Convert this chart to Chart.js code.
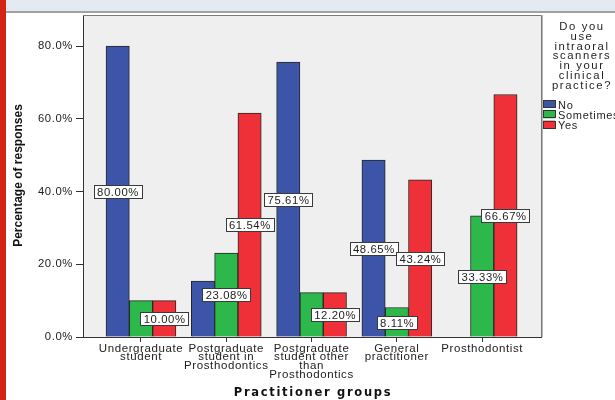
<!DOCTYPE html>
<html>
<head>
<meta charset="utf-8">
<script src="https://cdn.jsdelivr.net/npm/chart.js@4/dist/chart.umd.min.js"></script>
<style>
  html, body { margin: 0; padding: 0; background: #ffffff; }
  #wrap { width: 615px; height: 400px; position: relative; }
  canvas { display: block; }
</style>
</head>
<body>
<div id="wrap"><canvas id="chart" width="615" height="400"></canvas></div>
<script>
// Practitioner groups on the horizontal axis (multi-line labels)
const categories = [
  ["Undergraduate", "student"],
  ["Postgraduate", "student in", "Prosthodontics"],
  ["Postgraduate", "student other", "than", "Prosthodontics"],
  ["General", "practitioner"],
  ["Prosthodontist"]
];

// Answer series (percent of responses in each group)
const seriesNames = ["No", "Sometimes", "Yes"];
const noValues = [80.00, 15.38, 75.61, 48.65, 0];
const sometimesValues = [10.00, 23.08, 12.20, 8.11, 33.33];
const yesValues = [10.00, 61.54, 12.20, 43.24, 66.67];

// Which bars carry a value box
const noLabelShown = [true, false, true, true, false];
const sometimesLabelShown = [false, true, false, true, true];
const yesLabelShown = [true, true, true, true, true];

// Value axis ticks
const yTicks = [0, 20, 40, 60, 80];

// Texts
const legendTitle = ["Do you", "use", "intraoral", "scanners", "in your", "clinical", "practice?"];
const xTitle = "Practitioner groups";
const yTitle = "Percentage of responses";

const seriesColors = ["#3d55a9", "#2cb84b", "#ef3039"];
const seriesValues = [noValues, sometimesValues, yesValues];
const seriesLabelShown = [noLabelShown, sometimesLabelShown, yesLabelShown];

const FONT = '"Liberation Sans", Arial, sans-serif';

// Page background, side stripe, top band and plot background
const backdrop = {
  id: 'backdrop',
  beforeDraw(chart) {
    const ctx = chart.ctx;
    const a = chart.chartArea;
    ctx.save();
    ctx.fillStyle = '#ffffff';
    ctx.fillRect(0, 0, chart.width, chart.height);
    ctx.fillStyle = '#e4eaf1';
    ctx.fillRect(0, 0, chart.width, 11);
    ctx.fillStyle = '#a2a2a2';
    ctx.fillRect(0, 11, chart.width, 2);
    ctx.fillStyle = '#efefef';
    ctx.fillRect(a.left, a.top, a.right - a.left, a.bottom - a.top);
    ctx.fillStyle = '#d32414';
    ctx.fillRect(0, 0, 6, chart.height);
    ctx.restore();
    ctx.letterSpacing = '0.6px';
  }
};

// Top and right edges of the plot frame
const frame = {
  id: 'frame',
  beforeDatasetsDraw(chart) {
    const ctx = chart.ctx;
    const a = chart.chartArea;
    ctx.save();
    ctx.lineWidth = 1;
    ctx.strokeStyle = '#7a7a7a';
    ctx.beginPath();
    ctx.moveTo(a.left, a.top - 0.5);
    ctx.lineTo(a.right + 0.5, a.top - 0.5);
    ctx.lineTo(a.right + 0.5, a.bottom);
    ctx.stroke();
    ctx.strokeStyle = '#b4b4b4';
    ctx.beginPath();
    ctx.moveTo(a.right + 1.5, a.top - 1);
    ctx.lineTo(a.right + 1.5, a.bottom);
    ctx.stroke();
    ctx.restore();
  }
};

// Boxed percentage values at the middle of the bars
const valueBoxes = {
  id: 'valueBoxes',
  afterDatasetsDraw(chart) {
    const ctx = chart.ctx;
    ctx.save();
    ctx.font = '11.3px ' + FONT;
    ctx.letterSpacing = '0.6px';
    ctx.textAlign = 'center';
    ctx.textBaseline = 'middle';
    chart.data.datasets.forEach((ds, d) => {
      const meta = chart.getDatasetMeta(d);
      meta.data.forEach((bar, i) => {
        if (!seriesLabelShown[d][i]) return;
        const text = seriesValues[d][i].toFixed(2) + '%';
        const cx = bar.x;
        const cy = (bar.y + bar.base) / 2;
        const w = Math.round(ctx.measureText(text).width + 6);
        const h = 13;
        const x0 = Math.round(cx - w / 2) + 0.5;
        const y0 = Math.round(cy - h / 2) + 0.5;
        ctx.fillStyle = '#ffffff';
        ctx.fillRect(x0, y0, w, h);
        ctx.strokeStyle = '#3a3a3a';
        ctx.lineWidth = 1;
        ctx.strokeRect(x0, y0, w, h);
        ctx.fillStyle = '#1e1e1e';
        ctx.fillText(text, cx + 0.3, y0 + h / 2 + 0.5);
      });
    });
    ctx.restore();
  }
};

// Axis titles and legend block
const annotations = {
  id: 'annotations',
  afterDraw(chart) {
    const ctx = chart.ctx;
    const a = chart.chartArea;
    ctx.save();
    ctx.fillStyle = '#111111';
    ctx.textAlign = 'center';
    ctx.textBaseline = 'middle';

    // vertical axis title
    ctx.save();
    ctx.translate(19, (a.top + a.bottom) / 2 - 1);
    ctx.rotate(-Math.PI / 2);
    ctx.font = 'bold 12px ' + FONT;
    ctx.letterSpacing = '0px';
    ctx.fillText(yTitle, 0, 0);
    ctx.restore();

    // horizontal axis title
    ctx.font = 'bold 11.5px "DejaVu Sans", sans-serif';
    ctx.letterSpacing = '1.7px';
    ctx.fillText(xTitle, (a.left + a.right) / 2 + 1, 393);

    // legend title
    ctx.font = '11.3px ' + FONT;
    ctx.letterSpacing = '1.6px';
    ctx.fillStyle = '#1e1e1e';
    ctx.textBaseline = 'alphabetic';
    legendTitle.forEach((line, k) => {
      ctx.fillText(line, 582, 30 + k * 9.8);
    });

    // legend entries
    ctx.textAlign = 'left';
    ctx.font = '11px ' + FONT;
    ctx.letterSpacing = '0.7px';
    chart.data.datasets.forEach((ds, d) => {
      const top = 100 + d * 10.3;
      ctx.fillStyle = ds.backgroundColor;
      ctx.fillRect(543, top, 12, 8);
      ctx.strokeStyle = '#333333';
      ctx.lineWidth = 1;
      ctx.strokeRect(543.5, Math.round(top) + 0.5, 12, 7);
      ctx.fillStyle = '#1e1e1e';
      ctx.fillText(ds.label, 558, top + 8.5);
    });
    ctx.restore();
  }
};

const datasets = seriesNames.map((name, d) => ({
  label: name,
  data: seriesValues[d].map((v, i) => ({ x: i, y: v })),
  backgroundColor: seriesColors[d],
  borderColor: '#262626',
  borderWidth: 1,
  borderSkipped: 'start',
  barThickness: 23.3
}));

new Chart(document.getElementById('chart'), {
  type: 'bar',
  data: { datasets },
  plugins: [backdrop, frame, valueBoxes, annotations],
  options: {
    responsive: false,
    animation: false,
    devicePixelRatio: 1,
    layout: { padding: { left: 0, top: 16, right: 74, bottom: 0 } },
    plugins: {
      legend: { display: false },
      tooltip: { enabled: false },
      title: { display: false }
    },
    scales: {
      x: {
        type: 'linear',
        offset: false,
        min: -0.68,
        max: 4.69,
        afterBuildTicks(scale) {
          scale.ticks = categories.map((c, i) => ({ value: i }));
        },
        afterFit(scale) { scale.height = 63; },
        grid: {
          offset: false,
          drawOnChartArea: false,
          drawTicks: true,
          tickLength: 5,
          color: '#333333'
        },
        border: { display: true, color: '#333333', width: 1 },
        ticks: {
          autoSkip: false,
          maxRotation: 0,
          minRotation: 0,
          padding: 2,
          color: '#222222',
          font: { family: FONT, size: 11.5, lineHeight: '8.8px' },
          callback: (v) => categories[v]
        }
      },
      y: {
        type: 'linear',
        min: 0,
        max: 88.25,
        afterBuildTicks(scale) {
          scale.ticks = yTicks.map(v => ({ value: v }));
        },
        afterFit(scale) { scale.width = 83; },
        grid: {
          drawOnChartArea: false,
          drawTicks: true,
          tickLength: 7,
          color: '#333333'
        },
        border: { display: true, color: '#333333', width: 1 },
        ticks: {
          padding: 3,
          color: '#222222',
          font: { family: FONT, size: 11.3 },
          callback: (v) => Number(v).toFixed(1) + '%'
        }
      }
    }
  }
});
</script>
</body>
</html>
